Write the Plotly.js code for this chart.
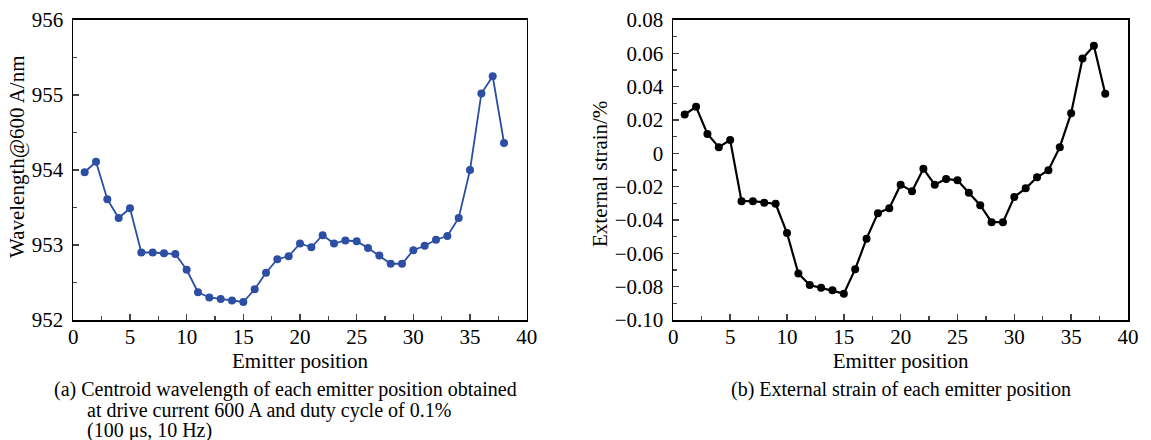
<!DOCTYPE html>
<html>
<head>
<meta charset="utf-8">
<script src="https://cdn.plot.ly/plotly-3.0.1.min.js"></script>
<style>html,body{margin:0;padding:0;background:#fff;}#chart{width:1151px;height:440px;}</style>
</head>
<body>
<div id="chart"></div>
<script>
var emitterPos = [1,2,3,4,5,6,7,8,9,10,11,12,13,14,15,16,17,18,19,20,21,22,23,24,25,26,27,28,29,30,31,32,33,34,35,36,37,38];
var wavelength = [953.97,954.11,953.61,953.36,953.49,952.90,952.90,952.89,952.88,952.67,952.37,952.30,952.28,952.26,952.24,952.41,952.63,952.81,952.85,953.02,952.97,953.13,953.02,953.06,953.05,952.96,952.86,952.75,952.75,952.93,952.99,953.07,953.12,953.36,954.00,955.02,955.25,954.36];
var strain = [0.0233,0.0279,0.0116,0.0037,0.0080,-0.0287,-0.0287,-0.0297,-0.0303,-0.0478,-0.0721,-0.0790,-0.0806,-0.0822,-0.0842,-0.0695,-0.0512,-0.0359,-0.0329,-0.0188,-0.0228,-0.0093,-0.0188,-0.0154,-0.0162,-0.0236,-0.0311,-0.0413,-0.0413,-0.0262,-0.0210,-0.0144,-0.0101,0.0037,0.0241,0.0569,0.0645,0.0357];
var xTicks = [0,5,10,15,20,25,30,35,40];
var wlTicks = [952,953,954,955,956];
var strainTicks = [-0.10,-0.08,-0.06,-0.04,-0.02,0,0.02,0.04,0.06,0.08];
var strainTickText = ['\u22120.10','\u22120.08','\u22120.06','\u22120.04','\u22120.02','0','0.02','0.04','0.06','0.08'];

var FONT = 'Liberation Serif, Times New Roman, serif';
var fsize = 21;
var capsize = 20;

var traces = [
  {x: emitterPos, y: wavelength, xaxis: 'x', yaxis: 'y', type: 'scatter', mode: 'lines+markers',
   line: {color: '#2c4ea3', width: 1.8}, marker: {color: '#2c4ea3', size: 8}},
  {x: emitterPos, y: strain, xaxis: 'x2', yaxis: 'y2', type: 'scatter', mode: 'lines+markers',
   line: {color: '#000000', width: 2.2}, marker: {color: '#000000', size: 8}}
];

function xax(domain, anchor) {
  return {domain: domain, anchor: anchor, range: [0, 40], tickvals: xTicks, ticks: 'inside', ticklen: 6, tickwidth: 1.5,
    showline: true, linewidth: 1.8, linecolor: '#000', mirror: true, showgrid: false, zeroline: false,
    minor: {dtick: 2.5, ticks: 'inside', ticklen: 4, tickwidth: 1.2, showgrid: false},
    tickfont: {family: FONT, size: fsize, color: '#000'}, ticklabelstandoff: -3,
    title: {text: 'Emitter position', font: {family: FONT, size: fsize, color: '#000'}, standoff: 0}};
}

function cap(text, x, y, anchor) {
  return {text: text, xref: 'paper', yref: 'paper', x: x/1151, y: 1 - (y - 20)/300,
    showarrow: false, xanchor: anchor, yanchor: 'middle', borderpad: 0,
    font: {family: FONT, size: capsize, color: '#000'}};
}

var layout = {
  width: 1151, height: 440,
  margin: {l: 0, r: 0, t: 20, b: 120},
  paper_bgcolor: '#fff', plot_bgcolor: '#fff',
  showlegend: false,
  font: {family: FONT, size: fsize, color: '#000'},
  xaxis: xax([0.0637, 0.4576], 'y'),
  xaxis2: xax([0.585, 0.980], 'y2'),
  yaxis: {domain: [0, 1], anchor: 'x', range: [952, 956], tickvals: wlTicks, ticks: 'inside', ticklen: 6, tickwidth: 1.5,
    showline: true, linewidth: 1.8, linecolor: '#000', mirror: true, showgrid: false, zeroline: false,
    minor: {dtick: 0.5, ticks: 'inside', ticklen: 4, tickwidth: 1.2, showgrid: false},
    tickfont: {family: FONT, size: fsize, color: '#000'}, ticklabelstandoff: 4},
  yaxis2: {domain: [0, 1], anchor: 'x2', range: [-0.10, 0.08], tickvals: strainTicks, ticktext: strainTickText, ticks: 'inside', ticklen: 6, tickwidth: 1.5,
    showline: true, linewidth: 1.8, linecolor: '#000', mirror: true, showgrid: false, zeroline: false,
    minor: {dtick: 0.01, ticks: 'inside', ticklen: 4, tickwidth: 1.2, showgrid: false},
    tickfont: {family: FONT, size: fsize, color: '#000'}, ticklabelstandoff: 4},
  annotations: [
    {text: 'Wavelength@600 A/nm', xref: 'paper', yref: 'paper', x: 17/1151, y: 1 - (157 - 20)/300, textangle: -90,
     showarrow: false, xanchor: 'center', yanchor: 'middle', font: {family: FONT, size: fsize, color: '#000'}},
    {text: 'External strain/%', xref: 'paper', yref: 'paper', x: 600/1151, y: 1 - (174 - 20)/300, textangle: -90,
     showarrow: false, xanchor: 'center', yanchor: 'middle', font: {family: FONT, size: fsize, color: '#000'}},
    cap('(a) Centroid wavelength of each emitter position obtained', 53, 389, 'left'),
    cap('at drive current 600 A and duty cycle of 0.1%', 86, 410, 'left'),
    cap('(100 \u03bcs, 10 Hz)', 86, 430, 'left'),
    cap('(b) External strain of each emitter position', 901, 389, 'center')
  ]
};

Plotly.newPlot('chart', traces, layout, {displayModeBar: false, staticPlot: true});
</script>
</body>
</html>
